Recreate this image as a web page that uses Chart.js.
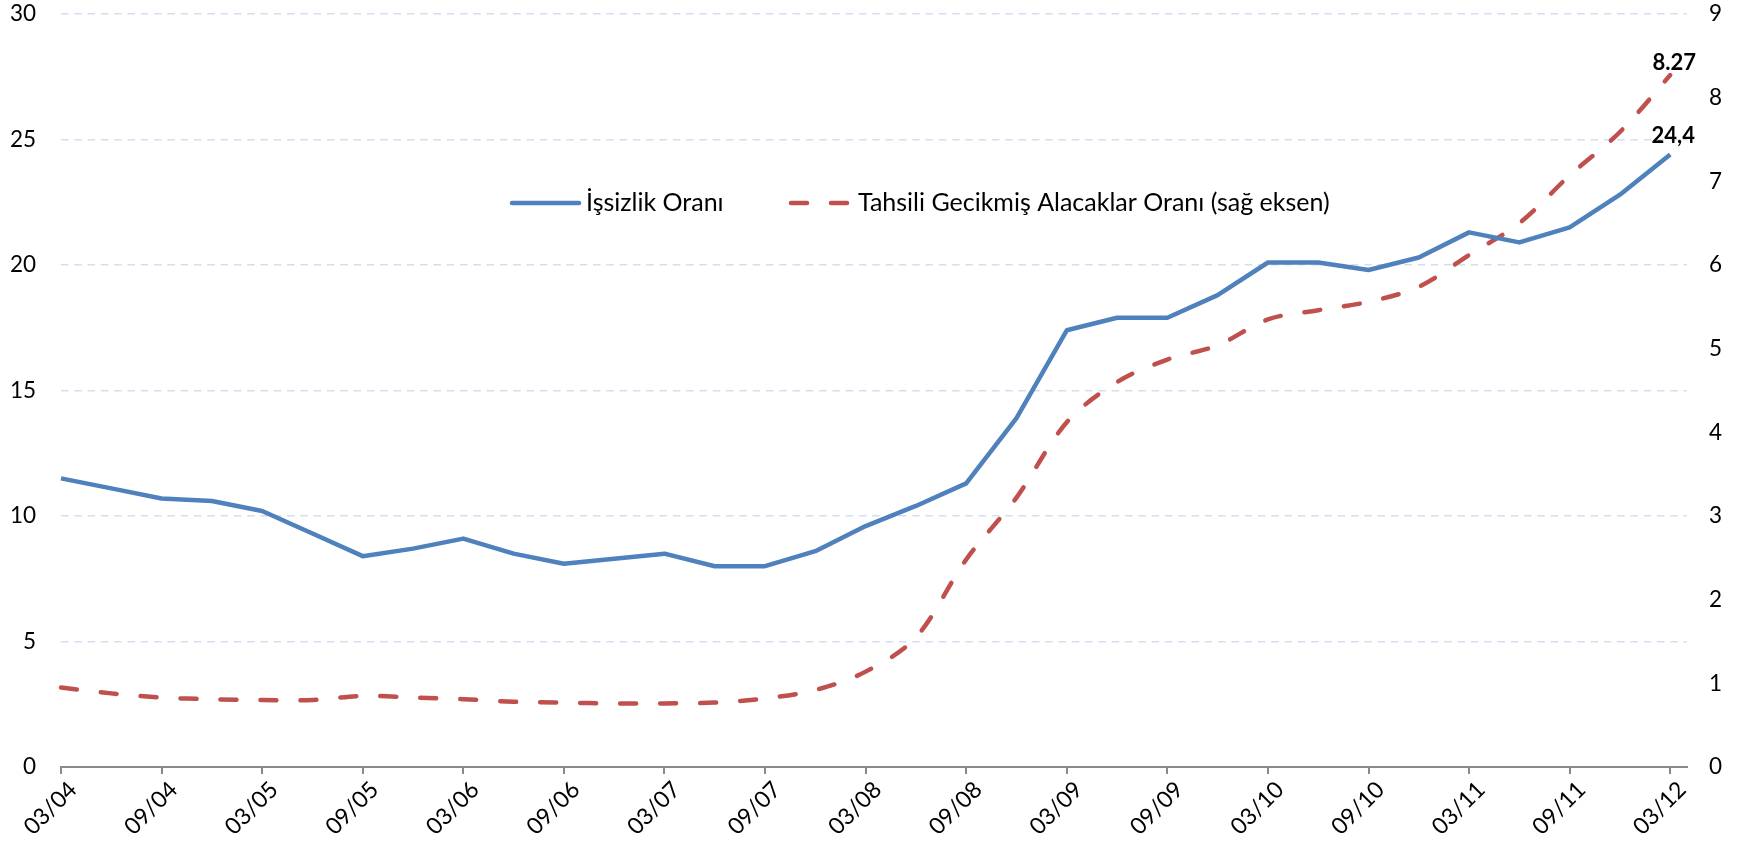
<!DOCTYPE html>
<html><head><meta charset="utf-8">
<script src="https://cdn.jsdelivr.net/npm/chart.js@4.4.1/dist/chart.umd.min.js"></script>
<style>html,body{margin:0;padding:0;background:#fff;}#wrap{width:1744px;height:850px;position:relative;}canvas{display:block;}</style>
</head><body><div id="wrap"><canvas id="c" width="1744" height="850"></canvas></div>
<script>
// ---- data ----
const periods = ['03/04','06/04','09/04','12/04','03/05','06/05','09/05','12/05','03/06','06/06','09/06','12/06',
  '03/07','06/07','09/07','12/07','03/08','06/08','09/08','12/08','03/09','06/09','09/09','12/09',
  '03/10','06/10','09/10','12/10','03/11','06/11','09/11','12/11','03/12'];
const unemployment = [11.5,11.1,10.7,10.6,10.2,9.3,8.4,8.7,9.1,8.5,8.1,8.3,
  8.5,8.0,8.0,8.6,9.6,10.4,11.3,13.9,17.4,17.9,17.9,18.8,
  20.1,20.1,19.8,20.3,21.3,20.9,21.5,22.8,24.4];
const nplRatio = [0.95,0.88,0.83,0.81,0.80,0.80,0.85,0.83,0.81,0.78,0.77,0.76,
  0.76,0.77,0.82,0.92,1.14,1.55,2.48,3.22,4.12,4.60,4.87,5.04,
  5.35,5.46,5.56,5.74,6.12,6.50,7.07,7.59,8.27];
const xTickLabels = ['03/04','09/04','03/05','09/05','03/06','09/06','03/07','09/07','03/08','09/08','03/09','09/09','03/10','09/10','03/11','09/11','03/12'];
const xAxisStart = '03/04';
const xAxisEnd = '04/12';
const leftTicks = [0,5,10,15,20,25,30];
const rightTicks = [0,1,2,3,4,5,6,7,8,9];
const seriesNames = ['İşsizlik Oranı','Tahsili Gecikmiş Alacaklar Oranı (sağ eksen)'];
const endLabels = ['24,4','8.27'];

// ---- helpers ----
function monthIndex(s){ const mm=+s.slice(0,2), yy=+s.slice(3); return (yy-4)*12 + (mm-3); }
const tickLabelByValue = {}; xTickLabels.forEach(l=>{ tickLabelByValue[monthIndex(l)] = l; });
const FONT = 'Lato';

const inlineLegend = {
  id:'inlineLegend',
  afterDraw(chart, args, opts){
    const ctx = chart.ctx;
    chart.data.datasets.forEach((ds,i)=>{
      const it = opts.items[i];
      ctx.save();
      ctx.strokeStyle = ds.borderColor; ctx.lineWidth = ds.borderWidth; ctx.lineCap = 'round';
      ctx.setLineDash(ds.borderDash || []);
      ctx.beginPath(); ctx.moveTo(it.x, opts.y); ctx.lineTo(it.x + it.len, opts.y); ctx.stroke();
      ctx.setLineDash([]);
      ctx.fillStyle = '#000'; ctx.font = opts.font; ctx.textBaseline = 'middle'; ctx.textAlign = 'left';
      ctx.fillText(ds.label, it.textX, opts.y);
      ctx.restore();
    });
  }
};
const endLabelPlugin = {
  id:'endLabel',
  afterDatasetsDraw(chart, args, opts){
    const ctx = chart.ctx;
    chart.data.datasets.forEach((ds,i)=>{
      const meta = chart.getDatasetMeta(i);
      const pt = meta.data[meta.data.length-1];
      const off = opts.offsets[i];
      ctx.save();
      ctx.fillStyle = '#000'; ctx.font = opts.font; ctx.textAlign = 'center'; ctx.textBaseline = 'middle';
      ctx.fillText(endLabels[i], pt.x + off.dx, pt.y + off.dy);
      ctx.restore();
    });
  }
};

new Chart(document.getElementById('c'), {
  type:'line',
  data:{
    datasets:[
      { label: seriesNames[0], data: periods.map((p,i)=>({x:monthIndex(p), y:unemployment[i]})),
        borderColor:'#4F81BD', borderWidth:4.5, pointRadius:0, tension:0, yAxisID:'y', fill:false,
        borderJoinStyle:'round', clip:8 },
      { label: seriesNames[1], data: periods.map((p,i)=>({x:monthIndex(p), y:nplRatio[i]})),
        borderColor:'#C0504D', borderWidth:4.5, borderDash:[16,24], borderCapStyle:'round', pointRadius:0,
        tension:0.33, yAxisID:'y1', fill:false, clip:8 }
    ]
  },
  options:{
    responsive:false, animation:false, devicePixelRatio:1,
    layout:{ padding:{ top:14, left:0, right:0, bottom:0 } },
    plugins:{
      legend:{ display:false }, tooltip:{ enabled:false },
      inlineLegend:{ y:203, font:'25px '+FONT, items:[ {x:512, len:67, textX:586}, {x:791, len:56, textX:858} ] },
      endLabel:{ font:'bold 22px '+FONT, offsets:[ {dx:3, dy:-19}, {dx:4, dy:-12} ] }
    },
    scales:{
      x:{ type:'linear', min:monthIndex(xAxisStart), max:monthIndex(xAxisEnd),
        afterBuildTicks:(s)=>{ s.ticks = xTickLabels.map(l=>({value:monthIndex(l)})); },
        afterFit:(s)=>{ s.height = 83; },
        ticks:{ autoSkip:false, maxRotation:45, minRotation:45, padding:2, labelOffset:12, color:'#000',
          font:{ family:FONT, size:23 }, callback:(v)=> tickLabelByValue[v] ?? '' },
        grid:{ drawOnChartArea:false, drawTicks:true, tickLength:7, color:'#8a8a8a', lineWidth:2 },
        border:{ display:true, color:'#8a8a8a', width:2 } },
      y:{ position:'left', min:0, max:30,
        afterBuildTicks:(s)=>{ s.ticks = leftTicks.map(v=>({value:v})); },
        afterFit:(s)=>{ s.width = 61; s.paddingTop = 12; s.paddingBottom = 12; },
        ticks:{ padding:25, color:'#000', font:{ family:FONT, size:22.5 } },
        grid:{ color:'#d3dff0', lineWidth:1.5, drawTicks:false },
        border:{ display:false, dash:[7.5,5.8] } },
      y1:{ position:'right', min:0, max:9,
        afterBuildTicks:(s)=>{ s.ticks = rightTicks.map(v=>({value:v})); },
        afterFit:(s)=>{ s.width = 57; s.paddingTop = 12; s.paddingBottom = 12; },
        ticks:{ padding:22, color:'#000', font:{ family:FONT, size:22.5 } },
        grid:{ drawOnChartArea:false, drawTicks:false },
        border:{ display:false } }
    }
  },
  plugins:[inlineLegend, endLabelPlugin]
});
</script></body></html>
